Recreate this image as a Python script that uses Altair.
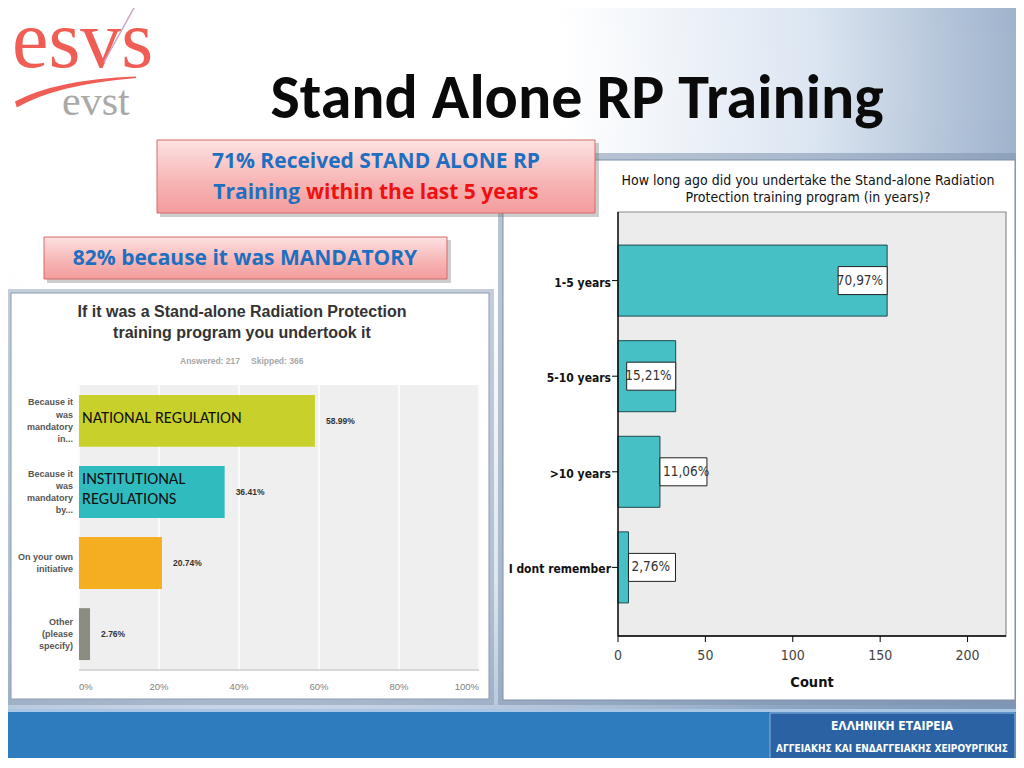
import altair as alt
import pandas as pd

# ---------------- data ----------------
reason_keys = ["mandatory_in", "mandatory_by", "own", "other"]
reason_labels = ["Because it\nwas\nmandatory\nin...", "Because it\nwas\nmandatory\nby...",
                 "On your own\ninitiative", "Other\n(please\nspecify)"]
reason_pct = [58.99, 36.41, 20.74, 2.76]
reason_pct_text = ["58.99%", "36.41%", "20.74%", "2.76%"]
reason_notes = ["NATIONAL REGULATION", "INSTITUTIONAL\nREGULATIONS", "", ""]
reason_colors = ["#c8d02c", "#30bbbf", "#f5ad22", "#8b8d80"]
pct_ticks = [0, 20, 40, 60, 80, 100]
pct_tick_labels = ["0%", "20%", "40%", "60%", "80%", "100%"]
answered = 217
skipped = 366

period_labels = ["1-5 years", "5-10 years", ">10 years", "I dont remember"]
period_counts = [154, 33, 24, 6]
period_pct_text = ["70,97%", "15,21%", "11,06%", "2,76%"]
count_ticks = [0, 50, 100, 150, 200]
count_max = 222

# ---------------- layout helpers ----------------
W, H = 1008, 750
M = 8  # page margin


def px(v):
    return v - M


CAL = "Carlito, Calibri, Lato, sans-serif"
CALLOUT = "Open Sans, Lato, sans-serif"
SANS = "Liberation Sans, Arial, sans-serif"
NARROW = "DejaVu Sans Condensed, Liberation Sans, sans-serif"
SERIF = "Liberation Serif, DejaVu Serif, serif"

ONE = pd.DataFrame({"k": [0]})


def box(x1, y1, x2, y2, **kw):
    return alt.Chart(ONE).mark_rect(**kw).encode(
        x=alt.value(px(x1)), x2=alt.value(px(x2)),
        y=alt.value(px(y1)), y2=alt.value(px(y2)))


def hline(x1, x2, y, **kw):
    return alt.Chart(ONE).mark_rule(**kw).encode(
        x=alt.value(px(x1)), x2=alt.value(px(x2)), y=alt.value(px(y)))


def vline(x, y1, y2, **kw):
    return alt.Chart(ONE).mark_rule(**kw).encode(
        x=alt.value(px(x)), y=alt.value(px(y1)), y2=alt.value(px(y2)))


def label(text, x, y, **kw):
    return alt.Chart(ONE).mark_text(**kw).encode(
        x=alt.value(px(x)), y=alt.value(px(y)), text=alt.value(text))


def multiline(base, field, texts, lh, dy0, enc, **kw):
    """Vertically centre multi-line labels: one layer per line count."""
    out = []
    for n in sorted({t.count("\n") + 1 for t in texts if t}):
        out.append(
            base.transform_filter(f"length(datum.{field}) > 0 && length(split(datum.{field}, '\\n')) == {n}")
            .mark_text(lineBreak="\n", lineHeight=lh, dy=dy0 - (n - 1) * lh / 2, baseline="middle", **kw)
            .encode(text=f"{field}:N", **enc))
    return out


layers = []

# background
bg_grad = alt.Gradient(
    gradient="radial",
    stops=[alt.GradientStop(color="#ffffff", offset=0),
           alt.GradientStop(color="#ffffff", offset=0.3),
           alt.GradientStop(color="#dbe5f1", offset=0.55),
           alt.GradientStop(color="#8ea5c2", offset=0.8),
           alt.GradientStop(color="#7a93b5", offset=1)],
    x1=0.25, y1=0.2, r1=0, x2=0.25, y2=0.2, r2=1)
layers.append(box(0, 0, 1024, 768, fill=bg_grad))

# footer
layers.append(box(0, 709, 1024, 712, fill="#a9c6e4"))
layers.append(box(0, 712, 1024, 768, fill="#2e7cbd"))
layers.append(box(770, 713, 1015, 766, fill="#2a62a3", stroke="#8fb0d8", strokeWidth=1))
layers.append(label("ΕΛΛΗΝΙΚΗ  ΕΤΑΙΡΕΙΑ", 892, 726, font=NARROW, fontSize=12, fontWeight="bold",
                    color="white", align="center", baseline="middle"))
layers.append(label("ΑΓΓΕΙΑΚΗΣ ΚΑΙ ΕΝΔΑΓΓΕΙΑΚΗΣ ΧΕΙΡΟΥΡΓΙΚΗΣ", 892, 749, font=NARROW, fontSize=10,
                    fontWeight="bold", color="white", align="center", baseline="middle"))

# logo
layers.append(label("esvs", 12, 67, font=SERIF, fontSize=82, color="#ef5d55", align="left",
                    baseline="alphabetic"))
layers.append(label("evst", 62, 115, font=SERIF, fontSize=42, color="#a9a9a9", align="left",
                    baseline="alphabetic"))
swoosh = "M -1 0.19 Q -0.35 -0.17 1 -0.225 L 1 -0.2 Q -0.33 -0.09 -0.97 0.29 Z"
layers.append(alt.Chart(ONE).mark_point(shape=swoosh, size=14641, filled=True, fill="#ef5d55",
                                        opacity=1, strokeWidth=0).encode(
    x=alt.value(px(75.5)), y=alt.value(px(90))))
layers.append(alt.Chart(ONE).mark_rule(color="#c9a6c6", strokeWidth=1.5).encode(
    x=alt.value(px(104)), y=alt.value(px(62)), x2=alt.value(px(135)), y2=alt.value(px(6))))

# slide title
layers.append(label("Stand Alone RP Training", 577, 118, font=CAL, fontSize=62, fontWeight="bold",
                    color="#0a0a0a", align="center", baseline="alphabetic"))

# panels with shadows
layers.append(box(6, 289, 494, 705, fill="#7f93ae", opacity=0.45))
layers.append(box(498, 153, 1020, 705, fill="#7f93ae", opacity=0.55))
layers.append(box(11, 293, 489, 699, fill="white", stroke="#8c9bb0", strokeWidth=1))
layers.append(box(503, 160, 1015, 700, fill="white", stroke="#7f8fa6", strokeWidth=1))

# ---------------- left chart ----------------
left_df = pd.DataFrame({"key": reason_keys, "label": reason_labels, "pct": reason_pct,
                        "pct_text": reason_pct_text, "note": reason_notes})
tick_df = pd.DataFrame({"pct": pct_ticks, "lab": pct_tick_labels})

layers.append(label("If it was a Stand-alone Radiation Protection\ntraining program you undertook it",
                    242, 317, font=SANS, fontSize=16, fontWeight="bold", color="#333333",
                    align="center", baseline="alphabetic", lineBreak="\n", lineHeight=21))
layers.append(label(f"Answered: {answered}", 240, 361, font=SANS, fontSize=8.5,
                    fontWeight="bold", color="#a8a8a8", align="right", baseline="middle"))
layers.append(label(f"Skipped: {skipped}", 251, 361, font=SANS, fontSize=8.5,
                    fontWeight="bold", color="#a8a8a8", align="left", baseline="middle"))
layers.append(box(79, 385, 479, 670, fill="#efefef"))

l_sx = alt.Scale(domain=[0, 100], range=[px(79), px(479)], nice=False)
l_sy = alt.Scale(domain=reason_keys, range=[px(385), px(670)], paddingInner=0.27, paddingOuter=0.14)
lx = alt.X("pct:Q", scale=l_sx, axis=None)
ly = alt.Y("key:N", scale=l_sy, axis=None, sort=reason_keys)

lbase = alt.Chart(left_df)
left_layers = []
left_layers.append(alt.Chart(tick_df).mark_rule(color="#fbfbfb", strokeWidth=2).encode(
    x=lx, y=alt.value(px(385)), y2=alt.value(px(670))))
left_layers.append(lbase.mark_bar().encode(
    x=lx, y=ly,
    color=alt.Color("key:N", scale=alt.Scale(domain=reason_keys, range=reason_colors), legend=None)))
left_layers += multiline(lbase, "label", reason_labels, 12.3, 0,
                         dict(x=alt.value(px(73)), y=ly),
                         align="right", font=SANS, fontSize=9, fontWeight="bold", color="#555555")
left_layers.append(lbase.mark_text(align="left", baseline="middle", dx=11, font=SANS, fontSize=8.5,
                                   fontWeight="bold", color="#333333").encode(
    x=lx, y=ly, text="pct_text:N"))
left_layers += multiline(lbase, "note", reason_notes, 20, -3,
                         dict(x=alt.value(px(82)), y=ly),
                         align="left", font=CAL, fontSize=16.5, color="#111111")
# x tick labels (first flush left, last flush right)
tick_y = alt.value(px(687))
for cond, al in [(f"datum.pct == {pct_ticks[0]}", "left"),
                 (f"datum.pct == {pct_ticks[-1]}", "right"),
                 (f"datum.pct > {pct_ticks[0]} && datum.pct < {pct_ticks[-1]}", "center")]:
    left_layers.append(alt.Chart(tick_df).transform_filter(cond).mark_text(
        align=al, baseline="middle", font=SANS, fontSize=9.5, color="#808080").encode(
        x=lx, y=tick_y, text="lab:N"))
layers.append(alt.layer(*left_layers))
layers.append(box(79, 669, 479, 671, fill="#d8d8d8"))

# ---------------- right chart ----------------
right_df = pd.DataFrame({"period": period_labels, "n": period_counts, "pct_text": period_pct_text})
count_df = pd.DataFrame({"n": count_ticks})

layers.append(label("How long ago did you undertake the Stand-alone Radiation\nProtection training program (in years)?",
                    808, 185, font=NARROW, fontSize=14, color="#111111", align="center",
                    baseline="alphabetic", lineBreak="\n", lineHeight=17))
layers.append(box(618, 212, 1006, 636, fill="#ececec", stroke="#8c8c8c", strokeWidth=1.2))

r_sx = alt.Scale(domain=[0, count_max], range=[px(618), px(1006)], nice=False)
r_sy = alt.Scale(domain=period_labels, range=[px(212), px(636)], paddingInner=0.257, paddingOuter=0.346)
rx = alt.X("n:Q", scale=r_sx, axis=None)
ry = alt.Y("period:N", scale=r_sy, axis=None, sort=period_labels)

rbase = alt.Chart(right_df)
inside = rbase.transform_filter("datum.n >= 30")
outside = rbase.transform_filter("datum.n < 30")
right_layers = [
    rbase.mark_bar(fill="#46c0c5", stroke="#1c4a50", strokeWidth=1).encode(x=rx, y=ry),
    inside.mark_rect(fill="white", stroke="#222222", strokeWidth=1, height=28, xOffset=-49).encode(
        x=rx, x2="n:Q", y=ry),
    inside.mark_text(align="right", baseline="middle", dx=-4, font=NARROW, fontSize=13.5,
                     color="#333333").encode(x=rx, y=ry, text="pct_text:N"),
    outside.mark_rect(fill="white", stroke="#222222", strokeWidth=1, height=28, x2Offset=47).encode(
        x=rx, x2="n:Q", y=ry),
    outside.mark_text(align="left", baseline="middle", dx=3, font=NARROW, fontSize=13.5,
                      color="#333333").encode(x=rx, y=ry, text="pct_text:N"),
    # y axis ticks and labels
    rbase.mark_rule(color="#000000", strokeWidth=1).encode(
        y=ry, x=alt.value(px(612)), x2=alt.value(px(618))),
    rbase.mark_text(align="right", baseline="middle", dy=2, font=NARROW, fontSize=12,
                    fontWeight="bold", color="#111111").encode(
        y=ry, x=alt.value(px(611)), text="period:N"),
    # x axis ticks and labels
    alt.Chart(count_df).mark_rule(color="#000000", strokeWidth=1).encode(
        x=rx, y=alt.value(px(636)), y2=alt.value(px(642))),
    alt.Chart(count_df).mark_text(align="center", baseline="middle", font=NARROW, fontSize=14,
                                  color="#444444").encode(
        x=rx, y=alt.value(px(656)), text="n:Q"),
]
layers.append(alt.layer(*right_layers))
layers.append(vline(618, 212, 636, color="#000000", strokeWidth=1.3))
layers.append(hline(618, 1006, 636, color="#000000", strokeWidth=1.3))
layers.append(label("Count", 812, 683, font=NARROW, fontSize=14.5, fontWeight="bold", color="#111111",
                    align="center", baseline="middle"))

# ---------------- callouts ----------------
pink = alt.Gradient(gradient="linear", x1=0, y1=0, x2=0, y2=1,
                    stops=[alt.GradientStop(color="#fde2e2", offset=0),
                           alt.GradientStop(color="#f7b3b3", offset=0.6),
                           alt.GradientStop(color="#f39c9c", offset=1)])
layers.append(box(160, 143, 599, 217, fill="#6f6f6f", opacity=0.35))
layers.append(box(157, 140, 595, 213, fill=pink, stroke="#d86a6a", strokeWidth=1))
layers.append(label("71% Received STAND ALONE RP", 376, 162, font=CALLOUT, fontSize=21, fontWeight="bold",
                    color="#1f6fc0", align="center", baseline="middle"))
layers.append(label("Training", 300, 193, font=CALLOUT, fontSize=21, fontWeight="bold",
                    color="#1f6fc0", align="right", baseline="middle"))
layers.append(label("within the last 5 years", 306, 193, font=CALLOUT, fontSize=21, fontWeight="bold",
                    color="#ee1111", align="left", baseline="middle"))
layers.append(box(47, 240, 451, 283, fill="#6f6f6f", opacity=0.35))
layers.append(box(44, 237, 447, 279, fill=pink, stroke="#d86a6a", strokeWidth=1))
layers.append(label("82% because it was MANDATORY", 245, 259, font=CALLOUT, fontSize=21, fontWeight="bold",
                    color="#1f6fc0", align="center", baseline="middle"))

chart = alt.layer(*layers).resolve_scale(
    x="independent", y="independent", color="independent"
).properties(
    width=W, height=H, autosize=alt.AutoSizeParams(type="none"), padding=0, background="white"
).configure_view(strokeWidth=0)

chart.save("out.html", embed_options={"renderer": "svg", "actions": False})
